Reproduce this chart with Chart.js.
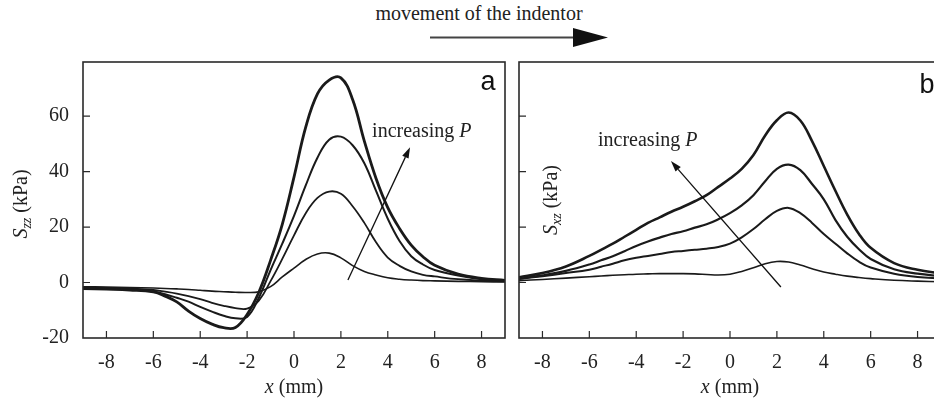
<!DOCTYPE html>
<html>
<head>
<meta charset="utf-8">
<script src="https://cdn.jsdelivr.net/npm/chart.js@4/dist/chart.umd.min.js"></script>
<style>
  html, body { margin:0; padding:0; background:#fff; overflow:hidden; width:934px; height:405px; }
  #wrap { position:relative; width:934px; height:405px; overflow:hidden; }
  canvas { position:absolute; top:0; }
  #title { position:absolute; left:370px; top:0px; width:218px; text-align:center; font:20px "Liberation Serif", "Times New Roman", serif; color:#222; line-height:26px; white-space:nowrap; }
  #arrow { position:absolute; left:420px; top:20px; }
</style>
</head>
<body>
<div id="wrap">
  <div id="title">movement of the indentor</div>
  <svg id="arrow" width="200" height="36" viewBox="0 0 200 36">
    <line x1="10" y1="17.5" x2="155" y2="17.5" stroke="#444" stroke-width="2"/>
    <polygon points="153,8 188,17.5 153,27" fill="#111"/>
  </svg>
  <canvas id="cA" width="510" height="405" style="left:0px"></canvas>
  <canvas id="cB" width="440" height="405" style="left:510px"></canvas>
</div>
<script>
// ---------- data ----------
const X = [-9,-8,-7,-6,-5.5,-5,-4.5,-4,-3.5,-3,-2.5,-2,-1.5,-1,-0.5,0,0.5,1,1.5,2,2.5,3,3.5,4,4.5,5,5.5,6,7,8,9];

// panel a : S_zz (kPa), four increasing loads P1 < P2 < P3 < P4
const SZZ_P1 = [-1.5,-1.6,-1.8,-2,-2.15,-2.3,-2.5,-2.8,-3.1,-3.3,-3.5,-3.6,-3.3,-1.5,2,5.2,8.3,10.3,10.6,8.9,6.1,4,2.7,1.7,1.2,0.9,0.7,0.6,0.4,0.3,0.2];
const SZZ_P2 = [-1.8,-1.9,-2.1,-2.7,-3.3,-4,-4.9,-6,-7.3,-8.4,-9.2,-9.4,-6.5,0.5,8.5,17,25,30.5,32.8,32,27.5,21.5,14.5,9,6,4,2.8,2.2,1.2,0.7,0.4];
const SZZ_P3 = [-2,-2.2,-2.5,-3.2,-4.2,-5.5,-6.9,-8.8,-10.5,-12,-12.9,-12.4,-5.5,4.5,14,24,35,45,51.5,52.6,49.5,43,33,23,15,9.5,6.5,4.5,2.5,1.2,0.6];
const SZZ_P4 = [-2.2,-2.4,-2.7,-3.4,-4.9,-7,-10.3,-13,-15,-16.3,-16.2,-11.5,-3.5,8,21,38,56,68,73,73.8,66,51,37.5,27,19.5,13.5,9.3,6.2,3,1.5,0.8];

// panel b : S_xz (kPa)
const SXZ_P1 = [0.7,1.1,1.6,2.1,2.35,2.6,2.8,3,3.1,3.2,3.2,3.2,3.1,2.9,2.7,3,4,5.3,6.8,7.6,7.4,6.3,5,3.8,3,2.3,1.8,1.4,0.8,0.5,0.3];
const SXZ_P2 = [1.3,2.3,3.4,4.6,5.7,6.8,8,8.9,9.6,10.3,11,11.4,11.8,12.2,12.8,14,16.3,19.3,22.8,25.8,26.9,25,21.5,17.5,14,10.5,7.5,5.4,3.2,2,1.5];
const SXZ_P3 = [1.4,2.6,4.2,6.5,8,9.5,11.3,13.2,14.8,16.2,17.5,18.5,19.8,21,22.8,25,27.8,31.5,36.5,41,42.5,40.5,35.5,30,22.5,16.5,12,8.5,4.8,3.2,2.3];
const SXZ_P4 = [1.9,3.4,5.8,9.6,11.8,14,16.5,19,21.5,23.5,25.5,27.3,29.3,31.5,34.5,37.5,41,46,53,58.5,61.3,58.4,51,42,33,24.5,17.5,12.5,7,4.6,3.3];

const X_TICKS = [-8,-6,-4,-2,0,2,4,6,8];
const Y_TICKS = [-20,0,20,40,60];
const X_RANGE = [-9, 9];
const Y_RANGE = [-20, 79.5];

// annotation anchors in data units
const ANN_A = { text:[3.33, 54.2], tail:[2.3, 0.9], tip:[4.95, 48.8] };
const ANN_B = { text:[-5.63, 51], tail:[2.17, -1.6], tip:[-2.52, 43.8] };

// ---------- helpers ----------
const SERIF = '"Liberation Serif", "Times New Roman", serif';
const SANS = '"Liberation Sans", Arial, sans-serif';
const INK = '#1a1a1a';

function series(ys, w) {
  return { data: X.map((x, i) => ({ x: x, y: ys[i] })), borderColor: INK, borderWidth: w,
           pointRadius: 0, fill: false, tension: 0.4 };
}

function drawSubLabel(ctx, cx, cy, rotate, main, sub, rest) {
  ctx.save();
  ctx.translate(cx, cy);
  if (rotate) ctx.rotate(-Math.PI / 2);
  const fMain = 'italic 20px ' + SERIF, fSub = 'italic 14px ' + SERIF, fRest = '20px ' + SERIF;
  ctx.font = fMain; const w1 = ctx.measureText(main).width;
  ctx.font = fSub; const w2 = sub ? ctx.measureText(sub).width : 0;
  ctx.font = fRest; const w3 = ctx.measureText(rest).width;
  let x = -(w1 + w2 + w3) / 2;
  ctx.fillStyle = '#222'; ctx.textBaseline = 'middle'; ctx.textAlign = 'left';
  ctx.font = fMain; ctx.fillText(main, x, 0); x += w1;
  if (sub) { ctx.font = fSub; ctx.fillText(sub, x, 5); x += w2; }
  ctx.font = fRest; ctx.fillText(rest, x, 0);
  ctx.restore();
}

function drawArrow(ctx, x1, y1, x2, y2) {
  ctx.save();
  ctx.strokeStyle = '#111'; ctx.fillStyle = '#111'; ctx.lineWidth = 1.3;
  const a = Math.atan2(y2 - y1, x2 - x1), L = 11, H = 3.5;
  const bx = x2 - L * Math.cos(a), by = y2 - L * Math.sin(a);
  ctx.beginPath(); ctx.moveTo(x1, y1); ctx.lineTo(bx, by); ctx.stroke();
  ctx.beginPath(); ctx.moveTo(x2, y2);
  ctx.lineTo(bx + H * Math.sin(a), by - H * Math.cos(a));
  ctx.lineTo(bx - H * Math.sin(a), by + H * Math.cos(a));
  ctx.closePath(); ctx.fill();
  ctx.restore();
}

function makePanel(id, datasets, cfg) {
  const decor = {
    id: 'decor',
    afterDraw(chart) {
      const ctx = chart.ctx, ca = chart.chartArea, xs = chart.scales.x, ys = chart.scales.y;
      ctx.save();
      // frame
      ctx.strokeStyle = '#2a2a2a'; ctx.lineWidth = 1.6;
      ctx.strokeRect(ca.left, ca.top, ca.right - ca.left, ca.bottom - ca.top);
      // inward ticks
      ctx.lineWidth = 1.2; ctx.beginPath();
      X_TICKS.forEach(v => { const p = xs.getPixelForValue(v); ctx.moveTo(p, ca.bottom); ctx.lineTo(p, ca.bottom - 7); });
      Y_TICKS.slice(1).forEach(v => { const p = ys.getPixelForValue(v); ctx.moveTo(ca.left, p); ctx.lineTo(ca.left + 7, p); });
      ctx.stroke();
      // axis titles
      drawSubLabel(ctx, cfg.yTitleX, cfg.yTitleY, true, 'S', cfg.sub, ' (kPa)');
      drawSubLabel(ctx, xs.getPixelForValue(0), 388, false, 'x', '', ' (mm)');
      // panel letter
      ctx.fillStyle = '#111'; ctx.font = '27px ' + SANS; ctx.textAlign = 'center'; ctx.textBaseline = 'alphabetic';
      ctx.fillText(cfg.letter, cfg.letterX, cfg.letterY);
      // annotation
      const A = cfg.ann;
      drawArrow(ctx, xs.getPixelForValue(A.tail[0]), ys.getPixelForValue(A.tail[1]),
                     xs.getPixelForValue(A.tip[0]), ys.getPixelForValue(A.tip[1]));
      ctx.fillStyle = '#222'; ctx.textAlign = 'left'; ctx.textBaseline = 'middle';
      const tx = xs.getPixelForValue(A.text[0]), ty = ys.getPixelForValue(A.text[1]);
      ctx.font = '20px ' + SERIF; const t1 = 'increasing ';
      ctx.fillText(t1, tx, ty);
      const w = ctx.measureText(t1).width;
      ctx.font = 'italic 20px ' + SERIF; ctx.fillText('P', tx + w, ty);
      ctx.restore();
    }
  };
  return new Chart(document.getElementById(id), {
    type: 'line',
    data: { datasets: datasets },
    options: {
      responsive: false, animation: false, devicePixelRatio: 1,
      layout: { padding: { top: 62, right: cfg.padRight, left: 0, bottom: 0 } },
      plugins: { legend: { display: false }, tooltip: { enabled: false } },
      scales: {
        x: {
          type: 'linear', min: X_RANGE[0], max: X_RANGE[1],
          afterBuildTicks: s => { s.ticks = X_TICKS.map(v => ({ value: v })); },
          afterFit: s => { s.height = 67; },
          grid: { display: false, drawTicks: false }, border: { display: false },
          ticks: { padding: 13, color: '#222', font: { family: SERIF, size: 20 }, maxRotation: 0, autoSkip: false }
        },
        y: {
          type: 'linear', min: Y_RANGE[0], max: Y_RANGE[1],
          afterBuildTicks: s => { s.ticks = Y_TICKS.map(v => ({ value: v })); },
          afterFit: s => { s.width = cfg.yWidth; },
          grid: { display: false, drawTicks: false }, border: { display: false },
          ticks: { display: cfg.yLabels, padding: 14, color: '#222', font: { family: SERIF, size: 20 } }
        }
      }
    },
    plugins: [decor]
  });
}

makePanel('cA', [series(SZZ_P1, 1.6), series(SZZ_P2, 1.8), series(SZZ_P3, 2.0), series(SZZ_P4, 2.8)],
  { padRight: 5, yWidth: 83, yLabels: true, sub: 'zz', yTitleX: 22, yTitleY: 204,
    letter: 'a', letterX: 488, letterY: 90, ann: ANN_A });

makePanel('cB', [series(SXZ_P1, 1.6), series(SXZ_P2, 2.0), series(SXZ_P3, 2.2), series(SXZ_P4, 2.6)],
  { padRight: 9, yWidth: 9, yLabels: false, sub: 'xz', yTitleX: 42, yTitleY: 200,
    letter: 'b', letterX: 417, letterY: 93, ann: ANN_B });
</script>
</body>
</html>
